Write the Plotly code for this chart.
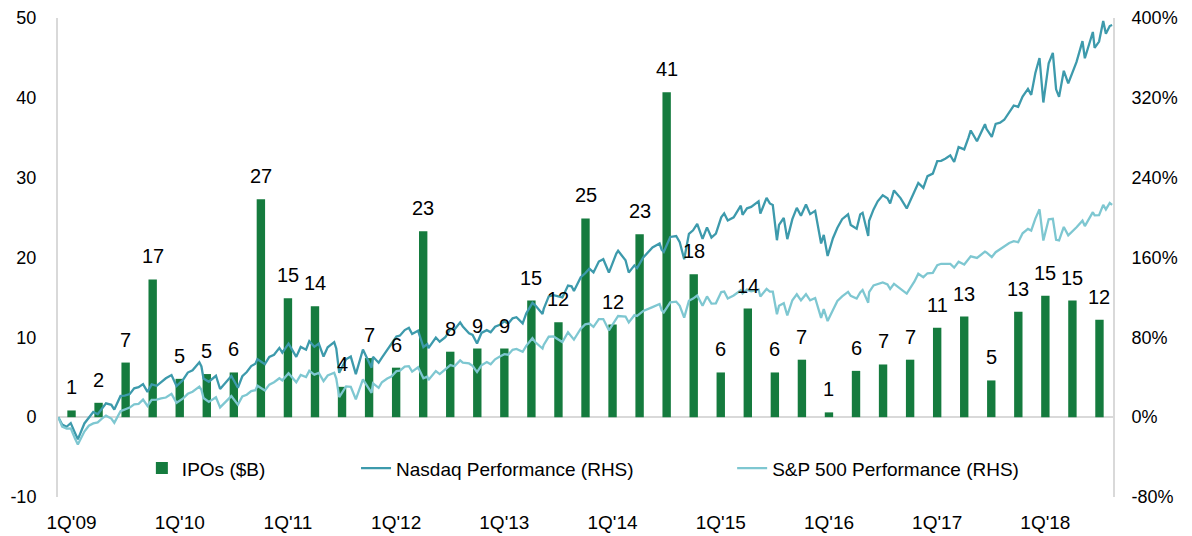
import plotly.graph_objects as go

# ---------------- data ----------------
quarters = ["1Q'09", "2Q'09", "3Q'09", "4Q'09",
            "1Q'10", "2Q'10", "3Q'10", "4Q'10",
            "1Q'11", "2Q'11", "3Q'11", "4Q'11",
            "1Q'12", "2Q'12", "3Q'12", "4Q'12",
            "1Q'13", "2Q'13", "3Q'13", "4Q'13",
            "1Q'14", "2Q'14", "3Q'14", "4Q'14",
            "1Q'15", "2Q'15", "3Q'15", "4Q'15",
            "1Q'16", "2Q'16", "3Q'16", "4Q'16",
            "1Q'17", "2Q'17", "3Q'17", "4Q'17",
            "1Q'18", "2Q'18", "3Q'18"]

ipo_values = [0.84, 1.8, 6.84, 17.25,
              4.8, 5.4, 5.6, 27.3,
              14.9, 13.9, 3.8, 7.4,
              6.2, 23.3, 8.2, 8.6,
              8.6, 14.6, 11.9, 24.9,
              11.6, 22.9, 40.7, 17.9,
              5.6, 13.6, 5.6, 7.2,
              0.6, 5.8, 6.6, 7.2,
              11.2, 12.6, 4.6, 13.2,
              15.2, 14.6, 12.2]

x_tick_labels = ["1Q'09", "1Q'10", "1Q'11", "1Q'12", "1Q'13",
                 "1Q'14", "1Q'15", "1Q'16", "1Q'17", "1Q'18"]

left_tick_vals = [-10, 0, 10, 20, 30, 40, 50]
left_tick_text = ["-10", "0", "10", "20", "30", "40", "50"]
right_tick_vals = [-80, 0, 80, 160, 240, 320, 400]
right_tick_text = ["-80%", "0%", "80%", "160%", "240%", "320%", "400%"]

line_dates = [
    # 2009
    "2009-01-02", "2009-01-15", "2009-01-30", "2009-02-13", "2009-02-27", "2009-03-09",
    "2009-03-31", "2009-04-15", "2009-04-30", "2009-05-15", "2009-05-29", "2009-06-12",
    "2009-06-30", "2009-07-10", "2009-07-31", "2009-08-14", "2009-08-31", "2009-09-15",
    "2009-09-30", "2009-10-15", "2009-10-30", "2009-11-13", "2009-11-30", "2009-12-15",
    "2009-12-31",
    # 2010
    "2010-01-19", "2010-02-05", "2010-02-26", "2010-03-15", "2010-03-31", "2010-04-23",
    "2010-04-30", "2010-05-07", "2010-05-25", "2010-06-18", "2010-07-02", "2010-07-30",
    "2010-08-09", "2010-08-31", "2010-09-15", "2010-09-30", "2010-10-15", "2010-10-29",
    "2010-11-05", "2010-11-30", "2010-12-15", "2010-12-31",
    # 2011
    "2011-01-18", "2011-01-28", "2011-02-18", "2011-03-16", "2011-03-31", "2011-04-18",
    "2011-04-29", "2011-05-16", "2011-05-31", "2011-06-16", "2011-06-30", "2011-07-22",
    "2011-07-29", "2011-08-08", "2011-08-31", "2011-09-16", "2011-10-03", "2011-10-27",
    "2011-11-25", "2011-11-30", "2011-12-19", "2011-12-30",
    # 2012
    "2012-01-17", "2012-01-31", "2012-02-17", "2012-02-29", "2012-03-16", "2012-03-30",
    "2012-04-10", "2012-04-30", "2012-05-18", "2012-05-31", "2012-06-04", "2012-06-29",
    "2012-07-12", "2012-07-31", "2012-08-17", "2012-08-31", "2012-09-19", "2012-09-28",
    "2012-10-19", "2012-10-31", "2012-11-15", "2012-11-30", "2012-12-18", "2012-12-31",
    # 2013
    "2013-01-15", "2013-01-31", "2013-02-15", "2013-02-28", "2013-03-15", "2013-03-28",
    "2013-04-18", "2013-04-30", "2013-05-21", "2013-05-31", "2013-06-24", "2013-06-28",
    "2013-07-15", "2013-07-31", "2013-08-15", "2013-08-30", "2013-09-18", "2013-09-30",
    "2013-10-08", "2013-10-31", "2013-11-15", "2013-11-29", "2013-12-13", "2013-12-31",
    # 2014
    "2014-01-15", "2014-02-03", "2014-02-28", "2014-03-06", "2014-03-31", "2014-04-11",
    "2014-04-30", "2014-05-09", "2014-05-30", "2014-06-13", "2014-06-30", "2014-07-24",
    "2014-07-31", "2014-08-07", "2014-08-29", "2014-09-18", "2014-09-30", "2014-10-15",
    "2014-10-31", "2014-11-14", "2014-11-28", "2014-12-16", "2014-12-31",
    # 2015
    "2015-01-15", "2015-01-30", "2015-02-17", "2015-02-27", "2015-03-11", "2015-03-31",
    "2015-04-24", "2015-04-30", "2015-05-15", "2015-05-29", "2015-06-23", "2015-06-29",
    "2015-07-20", "2015-07-31", "2015-08-10", "2015-08-24", "2015-08-31", "2015-09-16",
    "2015-09-28", "2015-10-15", "2015-10-30", "2015-11-13", "2015-11-30", "2015-12-14",
    "2015-12-31",
    # 2016
    "2016-01-20", "2016-01-29", "2016-02-11", "2016-02-29", "2016-03-15", "2016-03-31",
    "2016-04-20", "2016-04-29", "2016-05-19", "2016-05-31", "2016-06-08", "2016-06-27",
    "2016-06-30", "2016-07-15", "2016-07-29", "2016-08-15", "2016-08-31", "2016-09-09",
    "2016-09-22", "2016-10-14", "2016-11-04", "2016-11-30", "2016-12-13", "2016-12-30",
    # 2017
    "2017-01-13", "2017-01-31", "2017-02-15", "2017-02-28", "2017-03-14", "2017-03-31",
    "2017-04-13", "2017-04-28", "2017-05-17", "2017-05-31", "2017-06-08", "2017-06-29",
    "2017-07-26", "2017-07-31", "2017-08-18", "2017-08-31", "2017-09-15", "2017-09-29",
    "2017-10-16", "2017-10-31", "2017-11-15", "2017-11-30", "2017-12-18", "2017-12-29",
    # 2018
    "2018-01-12", "2018-01-26", "2018-02-08", "2018-02-26", "2018-03-12", "2018-03-23",
    "2018-04-02", "2018-04-18", "2018-05-03", "2018-05-31", "2018-06-20", "2018-06-28",
    "2018-07-25", "2018-07-31", "2018-08-15", "2018-08-29", "2018-09-07", "2018-09-20",
    "2018-09-28",
]

nasdaq_perf = [
    # 2009
    0.0, -7.4, -9.6, -6.0, -15.6, -22.2, -6.3, -0.4, 5.2, 2.9, 8.7, 13.8, 12.4, 7.6,
    21.3, 21.6, 23.1, 28.9, 30.0, 33.1, 25.3, 32.8, 31.4, 34.9, 39.0,
    # 2010
    42.2, 31.2, 37.1, 44.7, 46.9, 55.0, 50.8, 38.8, 35.5, 41.5, 28.2, 38.2, 41.2, 29.5,
    41.0, 45.2, 51.2, 53.6, 58.0, 53.1, 60.4, 62.6,
    # 2011
    69.4, 64.6, 73.7, 60.4, 70.4, 67.6, 76.1, 70.5, 73.7, 60.7, 70.0, 75.2, 68.9, 44.5,
    58.0, 60.7, 43.1, 67.8, 49.6, 60.5, 54.6, 59.6,
    # 2012
    67.2, 72.4, 80.8, 81.8, 87.3, 89.5, 83.3, 86.6, 70.3, 73.2, 69.1, 79.8, 75.6, 80.1,
    88.5, 87.9, 95.0, 90.9, 84.1, 82.4, 73.8, 84.4, 87.2, 85.0,
    # 2013
    90.6, 92.5, 96.0, 93.6, 99.1, 100.2, 94.0, 104.0, 114.6, 111.8, 103.5, 108.5, 121.0,
    122.2, 121.0, 120.0, 131.9, 131.1, 126.4, 140.2, 144.2, 148.8, 145.0, 155.9,
    # 2014
    158.3, 144.9, 164.0, 166.7, 157.3, 145.0, 152.1, 149.4, 160.0, 164.2, 170.1, 174.0,
    167.8, 165.6, 180.6, 181.5, 175.3, 158.3, 183.8, 187.3, 193.6, 178.7, 190.2,
    # 2015
    180.0, 184.0, 200.2, 204.2, 197.1, 200.3, 212.0, 202.8, 209.3, 210.7, 216.2, 203.9,
    219.8, 214.2, 212.6, 177.3, 192.7, 199.6, 178.4, 198.4, 209.7, 201.9, 213.1, 203.5,
    206.8,
    # 2016
    174.0, 182.7, 161.5, 179.3, 189.8, 198.4, 203.2, 192.6, 188.8, 203.2, 204.8, 181.5,
    196.8, 208.2, 216.3, 222.4, 219.4, 214.1, 227.2, 219.5, 209.2, 226.2, 234.7, 229.8,
    # 2017
    241.5, 244.1, 256.6, 256.9, 258.9, 262.3, 255.7, 270.6, 268.3, 279.8, 287.3, 276.5,
    293.6, 289.0, 280.9, 293.9, 295.1, 298.0, 305.9, 312.3, 311.0, 321.2, 328.9, 323.0,
    # 2018
    344.9, 359.9, 315.3, 354.7, 365.0, 328.5, 321.0, 347.1, 334.4, 356.0, 376.8, 359.7,
    386.0, 370.1, 376.4, 396.9, 384.3, 391.9, 393.0,
]

sp500_perf = [
    # 2009
    0.0, -9.4, -11.4, -11.2, -21.1, -27.3, -14.4, -8.6, -6.3, -5.2, -1.4, 1.5, -1.4, -5.7,
    5.9, 7.9, 9.6, 12.9, 13.4, 17.6, 11.2, 17.3, 17.6, 18.8, 19.7,
    # 2010
    23.4, 14.4, 18.5, 23.4, 25.5, 30.6, 27.4, 19.2, 15.3, 19.9, 9.8, 18.3, 21.1, 12.6,
    20.8, 22.5, 26.2, 27.0, 31.5, 26.7, 32.6, 35.0,
    # 2011
    39.0, 36.9, 44.1, 34.9, 42.3, 40.1, 46.4, 42.6, 44.3, 36.1, 41.8, 44.5, 38.7, 20.1,
    30.8, 30.5, 17.9, 37.9, 24.4, 33.8, 29.4, 35.0,
    # 2012
    38.8, 40.8, 46.1, 46.6, 50.7, 51.1, 45.7, 50.0, 39.0, 40.6, 37.2, 46.2, 43.2, 48.0,
    52.2, 51.0, 56.9, 54.6, 53.8, 51.5, 45.2, 52.0, 55.2, 53.0,
    # 2013
    58.0, 60.8, 63.1, 62.6, 67.5, 68.4, 65.5, 71.5, 79.1, 75.0, 68.8, 72.4, 80.6, 80.9,
    78.3, 75.3, 85.1, 80.5, 77.7, 88.6, 93.0, 93.8, 90.5, 98.3,
    # 2014
    98.3, 87.0, 99.5, 101.4, 100.9, 94.9, 102.2, 101.5, 106.5, 107.9, 110.3, 113.4,
    107.2, 105.0, 115.0, 115.8, 111.6, 99.8, 116.6, 118.8, 121.9, 111.7, 121.0,
    # 2015
    113.8, 114.1, 125.4, 125.9, 118.9, 121.9, 127.2, 123.9, 127.8, 126.1, 127.9, 120.9,
    128.5, 125.8, 125.8, 103.2, 111.6, 114.2, 101.9, 117.2, 123.1, 117.1, 123.2, 117.0,
    119.4,
    # 2016
    99.5, 108.2, 96.3, 107.3, 116.4, 121.1, 125.6, 121.6, 118.9, 125.0, 127.4, 114.7,
    125.3, 132.0, 133.3, 135.0, 133.0, 128.4, 133.6, 128.9, 123.8, 136.0, 143.7, 140.3,
    # 2017
    144.2, 144.6, 152.2, 153.7, 153.8, 153.6, 149.9, 155.8, 153.0, 158.9, 161.2, 159.6,
    165.8, 165.1, 160.4, 165.3, 168.3, 170.3, 174.5, 176.3, 175.3, 184.2, 188.7, 187.0,
    # 2018
    199.0, 208.3, 177.0, 198.3, 198.8, 177.7, 177.1, 190.6, 182.3, 190.3, 196.9, 191.5,
    205.4, 202.2, 202.4, 212.7, 208.2, 214.6, 212.7,
]

assert len(line_dates) == len(nasdaq_perf) == len(sp500_perf), (
    len(line_dates), len(nasdaq_perf), len(sp500_perf))
assert len(quarters) == len(ipo_values)

# ---------------- styles ----------------
BAR_COLOR = "#157B3E"
NASDAQ_COLOR = "#3D9AAC"
SP_COLOR = "#7EC7D1"
AXIS_GREY = "#D9D9D9"
FONT = "Liberation Sans, Arial, sans-serif"

fig = go.Figure()
fig.add_trace(go.Bar(
    x=quarters, y=ipo_values, name="IPOs ($B)",
    marker=dict(color=BAR_COLOR, line=dict(width=0)),
    width=0.31, xaxis="x", yaxis="y", legend="legend",
    hovertemplate="%{x}: %{y:.1f}<extra></extra>",
))
fig.add_trace(go.Scatter(
    x=line_dates, y=nasdaq_perf, name="Nasdaq Performance (RHS)", mode="lines",
    line=dict(color=NASDAQ_COLOR, width=2.3), xaxis="x2", yaxis="y2", legend="legend2",
))
fig.add_trace(go.Scatter(
    x=line_dates, y=sp500_perf, name="S&P 500 Performance (RHS)", mode="lines",
    line=dict(color=SP_COLOR, width=2.3), xaxis="x2", yaxis="y2", legend="legend3",
))

# value labels above bars
for q, v in zip(quarters, ipo_values):
    fig.add_annotation(x=q, y=v, xref="x", yref="y", text=f"{v:.0f}",
                       showarrow=False, yanchor="bottom", yshift=10,
                       font=dict(size=20, color="#000000", family=FONT))

legend_common = dict(orientation="h", yanchor="middle", xanchor="left", y=0.06,
                     bgcolor="rgba(0,0,0,0)", font=dict(size=19, color="#000000", family=FONT))

fig.update_layout(
    width=1192, height=536,
    margin=dict(l=58, r=79, t=18, b=39, autoexpand=False),
    paper_bgcolor="white", plot_bgcolor="white",
    font=dict(family=FONT, size=18, color="#000000"),
    showlegend=True,
    xaxis=dict(type="category", categoryorder="array", categoryarray=quarters,
               range=[-0.5, 38.5], tickmode="array", tickvals=x_tick_labels,
               ticktext=x_tick_labels, showgrid=False, showline=False, zeroline=False,
               ticks="", ticklabelstandoff=12, tickfont=dict(size=19), automargin=False),
    xaxis2=dict(type="date", overlaying="x", anchor="y2",
                range=["2009-01-01", "2018-10-01"], visible=False, automargin=False),
    yaxis=dict(range=[-10, 50], tickmode="array", tickvals=left_tick_vals,
               ticktext=left_tick_text, showgrid=False, showline=True,
               linecolor=AXIS_GREY, linewidth=2, zeroline=True,
               zerolinecolor=AXIS_GREY, zerolinewidth=2, ticks="",
               ticklabelstandoff=16, tickfont=dict(size=18), automargin=False),
    yaxis2=dict(range=[-80, 400], tickmode="array", tickvals=right_tick_vals,
                ticktext=right_tick_text, overlaying="y", side="right", anchor="x2",
                showgrid=False, showline=True, linecolor=AXIS_GREY, linewidth=2,
                zeroline=False, ticks="", ticklabelstandoff=13, tickfont=dict(size=18),
                automargin=False),
    legend=dict(x=0.0795, **legend_common),
    legend2=dict(x=0.2825, **legend_common),
    legend3=dict(x=0.639, **legend_common),
)

fig.write_html("out.html",
               config={"displayModeBar": False},
               post_script="document.body.style.margin='0px';"
                           "document.body.style.overflow='hidden';")
